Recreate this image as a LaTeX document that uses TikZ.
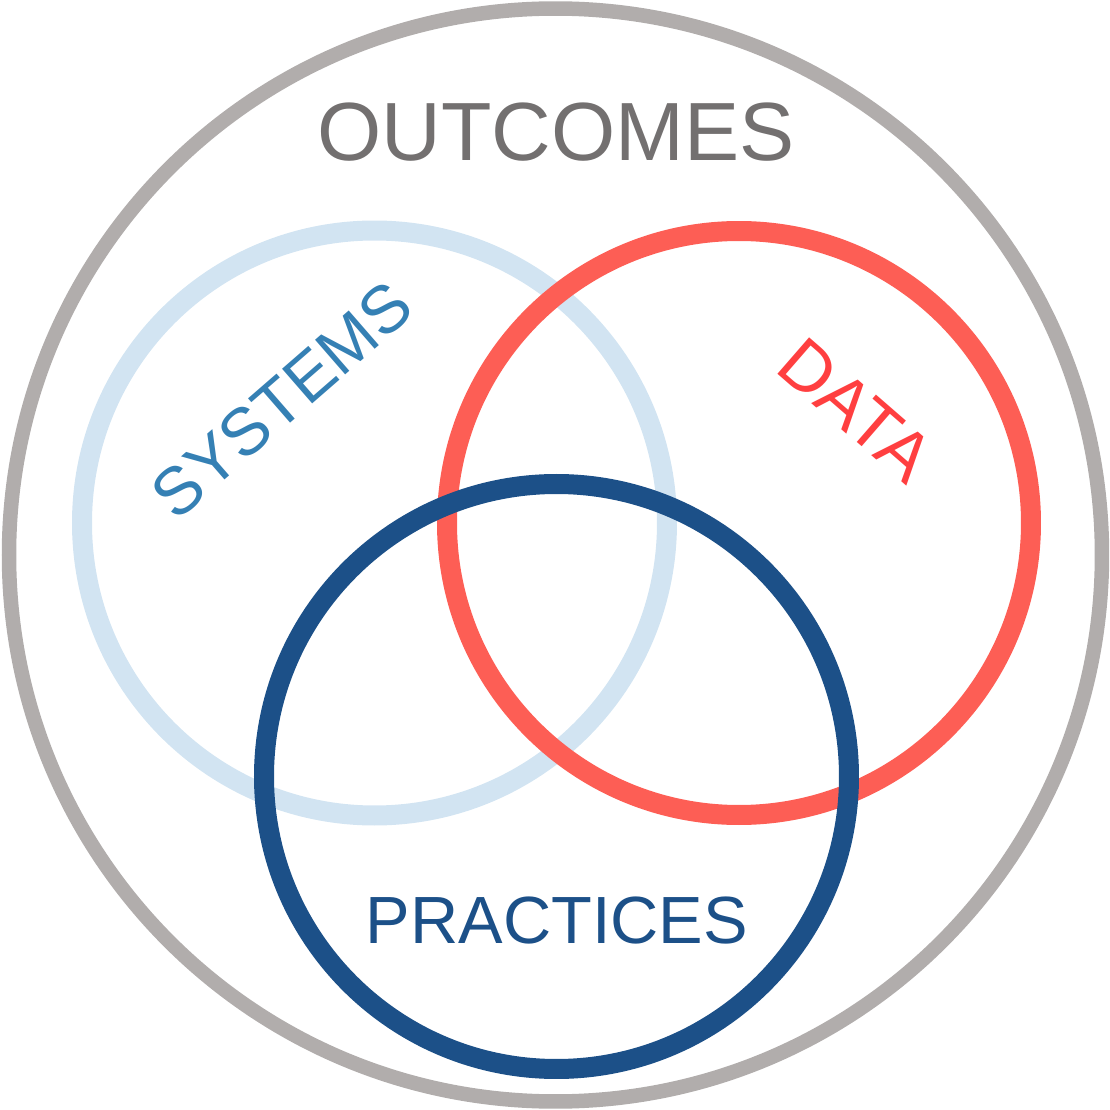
\documentclass[tikz,border=0pt]{standalone}
\usepackage{fontspec}
\setmainfont{Liberation Sans}
\usepackage{xcolor}
\usetikzlibrary{positioning}

\definecolor{ringGrey}{HTML}{B1ADAC}
\definecolor{sysRing}{HTML}{D2E4F2}
\definecolor{dataRing}{HTML}{FD5E55}
\definecolor{pracRing}{HTML}{1C5088}
\definecolor{outText}{HTML}{737070}
\definecolor{sysText}{HTML}{3580B4}
\definecolor{dataText}{HTML}{FF3F40}

\begin{document}
\begin{tikzpicture}[
    ring/.style={line width=0.2cm},
    outerRing/.style={draw=ringGrey, line width=0.145cm},
    label/.style={inner sep=0pt, font=\fontsize{19}{19}\selectfont},
]
\useasboundingbox (0,0) rectangle (11.1,11.1);

% ring centres
\coordinate (c_out)  at (5.555,5.55);
\coordinate (c_sys)  at (3.745,5.87);
\coordinate (c_data) at (7.39,5.87);
\coordinate (c_prac) at (5.565,3.335);

% Outer ring
\draw[outerRing] (c_out) circle (5.465);

% Three overlapping rings
\draw[ring, sysRing]  (c_sys)  circle (2.925);
\draw[ring, dataRing] (c_data) circle (2.92);
\draw[ring, pracRing] (c_prac) circle (2.925);

% Labels
\node[label, outText, anchor=base, font=\fontsize{23.5}{23.5}\selectfont]
    (outcomes) at (5.56,9.5) {OUTCOMES};
\node[label, pracRing, anchor=base] (practices) at (5.57,1.67) {PRACTICES};
\node[label, sysText, rotate=41] (systems) at (2.82,7.10) {SYSTEMS};
\node[label, dataText, rotate=-41, font=\fontsize{20}{20}\selectfont]
    (data) at (8.56,7.0) {DATA};

\end{tikzpicture}
\end{document}
